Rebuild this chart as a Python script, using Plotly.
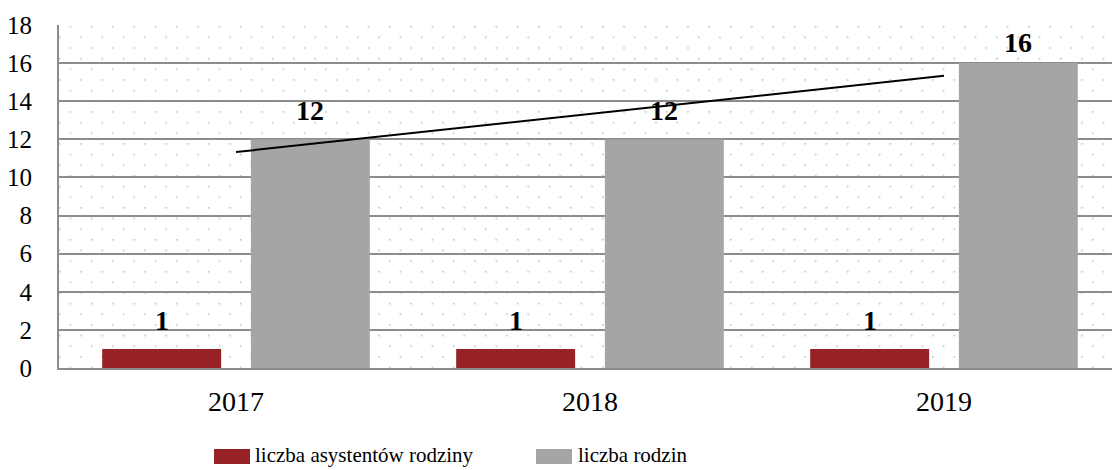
import base64
import numpy as np
import plotly.graph_objects as go

years = ["2017", "2018", "2019"]
series_names = ["liczba asystentów rodziny", "liczba rodzin"]
asystenci = [1, 1, 1]
rodziny = [12, 12, 16]
y_ticks = [0, 2, 4, 6, 8, 10, 12, 14, 16, 18]

RED = "#962226"
GRAY = "#A5A5A5"
GRID = "#8C8C8C"
FONT = "Liberation Serif, Times New Roman, serif"

W, H = 1112, 470
ML, MR, MT, MB = 59, 0, 25, 102
PW, PH = W - ML - MR, H - MT - MB
CAT_PX = 354.0
Y_MAX = 18

# dotted background pattern (style only)
svg = f'''<svg xmlns="http://www.w3.org/2000/svg" width="{PW}" height="{PH}" viewBox="0 0 {PW} {PH}">
<defs><pattern id="p" x="0" y="0" width="21.3" height="21.3" patternUnits="userSpaceOnUse">
<circle cx="11.3" cy="1.7" r="1" fill="#c4c4c4"/>
<circle cx="0.65" cy="12.35" r="1" fill="#c4c4c4"/>
<circle cx="21.95" cy="12.35" r="1" fill="#c4c4c4"/>
</pattern></defs>
<rect width="{PW}" height="{PH}" fill="url(#p)"/></svg>'''
src = "data:image/svg+xml;base64," + base64.b64encode(svg.encode()).decode()

fig = go.Figure()
fig.add_trace(go.Bar(x=years, y=asystenci, name=series_names[0], marker=dict(color=RED, line_width=0), showlegend=False))
fig.add_trace(go.Bar(x=years, y=rodziny, name=series_names[1], marker=dict(color=GRAY, line_width=0), showlegend=False))

# linear trendline of second series
idx = np.arange(len(years))
slope, intercept = np.polyfit(idx, rodziny, 1)
trend = [intercept + slope * idx[0], intercept + slope * idx[-1]]
fig.add_trace(go.Scatter(x=[years[0], years[-1]], y=trend, mode="lines",
                         line=dict(color="black", width=2), showlegend=False, hoverinfo="skip"))


def label_shift(v, base=11, glyph=39, min_top=MT + 7):
    bar_top = MT + PH * (1 - v / Y_MAX)
    top = bar_top - glyph
    return base - max(0, min_top - top)


annotations = []
OFF = 0.21
for sign, vals in ((-1, asystenci), (1, rodziny)):
    for i, y in enumerate(vals):
        annotations.append(dict(x=i + sign * OFF, y=y, xref="x", yref="y", text=f"<b>{y}</b>", showarrow=False,
                                yanchor="bottom", yshift=label_shift(y),
                                font=dict(family=FONT, size=28, color="black")))


def px_x(p):
    return (p - ML) / PW


def px_y(p):
    return (MT + PH - p) / PH


shapes = []
legend_items = [(series_names[0], RED, 214, 250, 253), (series_names[1], GRAY, 536, 572, 576)]
for name, col, x0, x1, tx in legend_items:
    shapes.append(dict(type="rect", xref="paper", yref="paper", x0=px_x(x0), x1=px_x(x1),
                       y0=px_y(464), y1=px_y(449), fillcolor=col, line_width=0))
    annotations.append(dict(x=px_x(tx), y=px_y(455), xref="paper", yref="paper", text=name, showarrow=False,
                            xanchor="left", yanchor="middle", font=dict(family=FONT, size=21, color="black")))

fig.update_layout(
    width=W, height=H,
    margin=dict(l=ML, r=MR, t=MT, b=MB, pad=0),
    paper_bgcolor="white", plot_bgcolor="white",
    barmode="group", bargap=0.16, bargroupgap=0.2,
    font=dict(family=FONT, color="black"),
    annotations=annotations, shapes=shapes,
    images=[dict(source=src, xref="paper", yref="paper", x=0, y=1, sizex=1, sizey=1,
                 xanchor="left", yanchor="top", sizing="stretch", layer="below")],
)
fig.update_xaxes(type="category", range=[-0.5, -0.5 + PW / CAT_PX], showgrid=False,
                 showline=True, linecolor=GRID, linewidth=2, ticks="", ticklabelstandoff=7,
                 tickfont=dict(family=FONT, size=28, color="black"), fixedrange=True)
fig.update_yaxes(range=[0, Y_MAX], tickvals=y_ticks, showgrid=True, gridcolor=GRID, gridwidth=2,
                 showline=True, linecolor=GRID, linewidth=2, ticks="", ticklabelstandoff=20,
                 zeroline=False, tickfont=dict(family=FONT, size=25, color="black"), fixedrange=True)

fig.write_html("out.html", config={"displayModeBar": False},
               post_script="document.body.style.margin='0';document.body.style.overflow='hidden';")
